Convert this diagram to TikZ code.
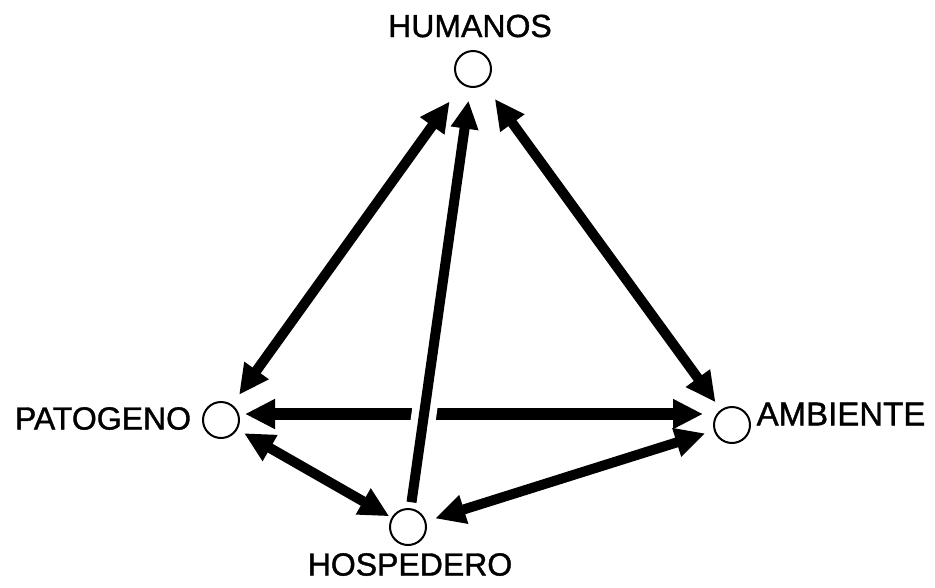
\documentclass[tikz,border=0pt]{standalone}
\usepackage{fontspec}
\setmainfont[FakeBold=1.2]{Liberation Sans}
\usetikzlibrary{arrows.meta}
\begin{document}
\begin{tikzpicture}[x=1pt,y=-1pt,
  hub/.style={circle,draw,line width=2pt,minimum size=36pt,inner sep=0pt},
  lbl/.style={inner sep=0pt,font=\fontsize{32}{36}\selectfont},
  headtip/.tip={Triangle[length=30pt,width=28pt]},
  smalltip/.tip={Triangle[length=28pt,width=26pt]},
  link/.style={line width=10pt,headtip-headtip},
  oneway/.style={line width=10pt,-smalltip},
]
\useasboundingbox (0,0) rectangle (935,587);
% hubs
\node[hub] (hum) at (473,69) {};
\node[hub] (pat) at (221,420) {};
\node[hub] (amb) at (732,425) {};
\node[hub] (hos) at (408,527) {};
% labels
\node[lbl] (lhum) at (470,26) {HUMANOS};
\node[lbl] (lpat) at (103,418.5) {PATOGENO};
\node[lbl,font=\fontsize{33}{36}\selectfont] (lamb) at (841,414) {AMBIENTE};
\node[lbl] (lhos) at (410,564.5) {HOSPEDERO};
% connectors
\draw[link,shorten <=40pt,shorten >=31pt] (hum.center) -- (pat.center);
\draw[link,shorten <=37pt,shorten >=28pt] (hum.center) -- (amb.center);
\draw[link,line width=12pt,shorten <=24pt,shorten >=29pt]
  ([yshift=6pt]pat.center) -- ([yshift=6pt]pat.center -| amb.center);
\draw[link,shorten <=26.6pt,shorten >=21.6pt] (pat.center) -- (hos.center);
\draw[link,shorten <=28.5pt,shorten >=28pt] (hos.center) -- (amb.center);
\begin{scope}
  \clip (395,395) rectangle (455,435);
  \draw[white,line width=25pt] (hos.center) -- (hum.center);
\end{scope}
\draw[oneway,shorten <=25pt,shorten >=32pt] (hos.center) -- (hum.center);
\end{tikzpicture}
\end{document}
